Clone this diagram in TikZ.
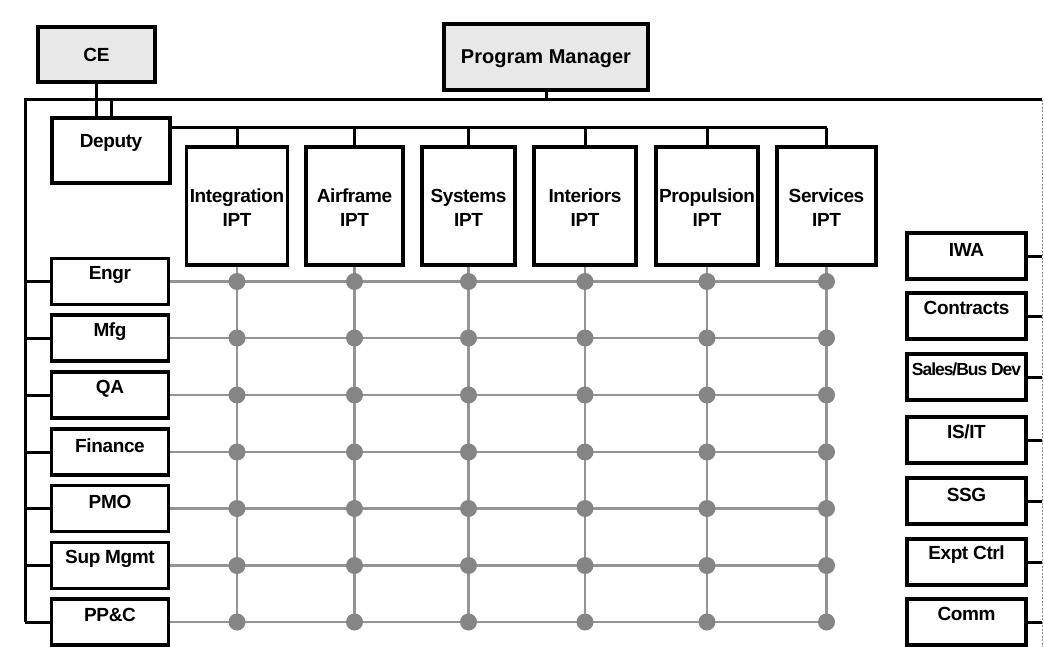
\documentclass[tikz,border=0pt]{standalone}
\usepackage{fontspec}
\setmainfont{Liberation Sans}
\begin{document}
\begin{tikzpicture}[x=1pt,y=-1pt,
  box/.style={draw=black, line width=3.4pt, inner sep=0pt, fill=white},
  gbox/.style={box, fill=black!9},
  conn/.style={draw=black, line width=3pt},
  gridl/.style={draw=black!42, line width=2.8pt},
  dotn/.style={circle, fill=black!48, minimum size=17pt, inner sep=0pt},
  rline/.style={draw=black!45, line width=1pt, dash pattern=on 2pt off 1.5pt},
  txt/.style={font=\fontsize{19}{24}\selectfont\bfseries\addfontfeature{LetterSpace=-2}, inner sep=0pt, align=center},
  sbox/.style={box, minimum width=117pt, minimum height=46pt},
  rbox/.style={box, minimum width=119pt, minimum height=46pt},
  ipt/.style={box, minimum height=118pt}
]
\useasboundingbox (0,0) rectangle (1044,647);
\fill[white] (0,0) rectangle (1044,647);

% corners of the frame
\coordinate (topL) at (25,100);
\coordinate (topR) at (1042,100);
\coordinate (busL) at (172,128);

% top boxes
\node[gbox, minimum width=117pt, minimum height=55pt] (ce) at (96.5,54.5) {};
\node[txt] at (ce) {CE};
\node[gbox, minimum width=204pt, minimum height=66pt] (pm) at (546,57) {};
\node[txt, font=\fontsize{20}{24}\selectfont\bfseries] at ([yshift=-2pt]pm.center) {Program Manager};
\node[box, minimum width=118pt, minimum height=65pt] (dep) at (111,150.5) {};
\node[txt] at ([yshift=-27pt]dep.north) {Deputy};

% IPT boxes
\node[ipt, minimum width=101pt] (i1) at (237,206) {};
\node[ipt, minimum width=97pt]  (i2) at (354.5,206) {};
\node[ipt, minimum width=93pt]  (i3) at (468.5,206) {};
\node[ipt, minimum width=102pt] (i4) at (585,206) {};
\node[ipt, minimum width=102pt] (i5) at (707,206) {};
\node[ipt, minimum width=99pt]  (i6) at (826.5,206) {};
\node[txt] at ([yshift=-2pt]i1.center) {Integration\\IPT};
\node[txt] at ([yshift=-2pt]i2.center) {Airframe\\IPT};
\node[txt] at ([yshift=-2pt]i3.center) {Systems\\IPT};
\node[txt] at ([yshift=-2pt]i4.center) {Interiors\\IPT};
\node[txt] at ([yshift=-2pt]i5.center) {Propulsion\\IPT};
\node[txt] at ([yshift=-2pt]i6.center) {Services\\IPT};

% left functional boxes
\node[sbox] (l1) at (110,281.5) {};
\node[sbox] (l2) at (110,338) {};
\node[sbox] (l3) at (110,395) {};
\node[sbox] (l4) at (110,452) {};
\node[sbox] (l5) at (110,508.5) {};
\node[sbox] (l6) at (110,565.5) {};
\node[sbox] (l7) at (110,622) {};
\node[txt] at ([yshift=-18pt]l1.north) {Engr};
\node[txt] at ([yshift=-18pt]l2.north) {Mfg};
\node[txt] at ([yshift=-18pt]l3.north) {QA};
\node[txt] at ([yshift=-18pt]l4.north) {Finance};
\node[txt] at ([yshift=-18pt]l5.north) {PMO};
\node[txt] at ([yshift=-18pt]l6.north) {Sup Mgmt};
\node[txt] at ([yshift=-18pt]l7.north) {PP\&C};

% right support boxes
\node[rbox] (r1) at (966.5,256) {};
\node[rbox] (r2) at (966.5,316) {};
\node[rbox] (r3) at (966.5,377) {};
\node[rbox] (r4) at (966.5,440) {};
\node[rbox] (r5) at (966.5,501) {};
\node[rbox] (r6) at (966.5,562) {};
\node[rbox] (r7) at (966.5,622) {};
\node[txt] at ([yshift=-19pt]r1.north) {IWA};
\node[txt] at ([yshift=-17pt]r2.north) {Contracts};
\node[txt, font=\fontsize{17.5}{20}\selectfont\bfseries\addfontfeature{LetterSpace=-6}] at ([yshift=-17pt]r3.north) {Sales/Bus Dev};
\node[txt] at ([yshift=-17pt]r4.north) {IS/IT};
\node[txt] at ([yshift=-19pt]r5.north) {SSG};
\node[txt] at ([yshift=-17pt]r6.north) {Expt Ctrl};
\node[txt] at ([yshift=-17pt]r7.north) {Comm};

% black connectors
\draw[conn] (topL |- l7.west) -- (topL) -- (topR);
\draw[conn] (pm.south) -- (pm.south |- topL);
\draw[conn] (ce.south) -- (ce.south |- dep.north);
\draw[conn] (dep.north) -- (dep.north |- topL);
\draw[conn] (dep.east |- busL) -- (i6.north |- busL);
\foreach \n in {i1,i2,i3,i4,i5,i6} \draw[conn] (\n.north) -- (\n.north |- busL);
\foreach \n in {l1,l2,l3,l4,l5,l6,l7} \draw[conn] (\n.west) -- (\n.west -| topL);
\draw[rline] (topR) -- (topR |- r7.south);
\foreach \n in {r1,r2,r3,r4,r5,r6,r7} \draw[conn] (\n.east) -- (\n.east -| topR);

% gray matrix
\foreach \n in {l1,l2,l3,l4,l5,l6,l7} \draw[gridl] (\n.east) -- (\n.east -| i6.south);
\foreach \n in {i1,i2,i3,i4,i5,i6} \draw[gridl] (\n.south) -- (\n.south |- l7.east);
\foreach \c in {i1,i2,i3,i4,i5,i6}
  \foreach \r in {l1,l2,l3,l4,l5,l6,l7}
    \node[dotn] at (\c.south |- \r.east) {};
\end{tikzpicture}
\end{document}
